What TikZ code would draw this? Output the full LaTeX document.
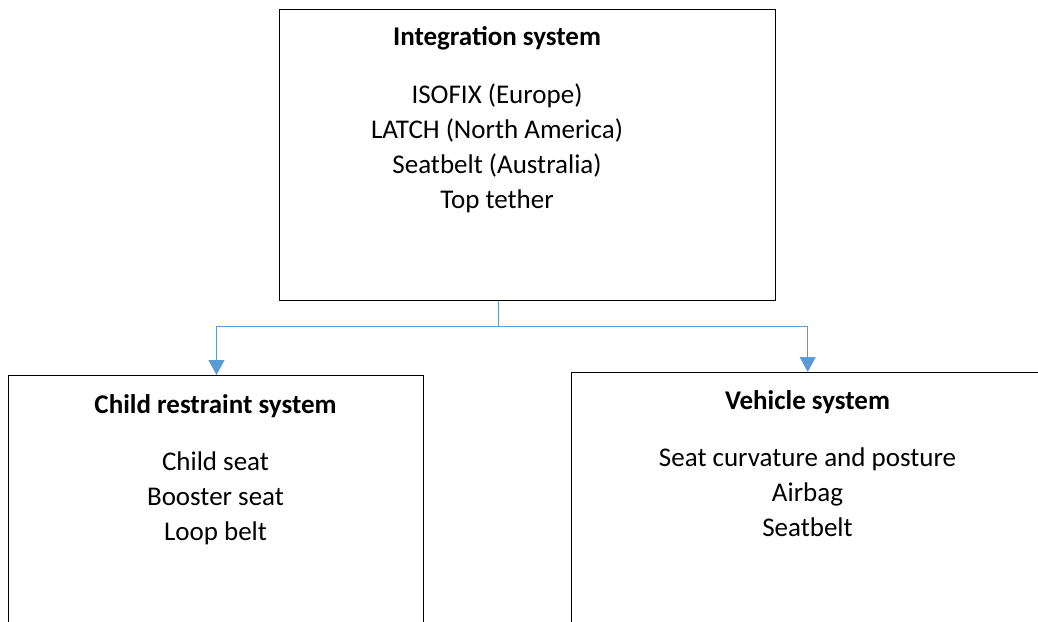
\documentclass[tikz,border=0pt]{standalone}
\usepackage{fontspec}
\setmainfont{Carlito}
\usetikzlibrary{arrows.meta}
\definecolor{linkblue}{HTML}{5B9BD5}
\tikzset{
  box/.style={draw=black, line width=1.4pt, anchor=north west, inner sep=0pt},
  conn/.style={draw=linkblue, line width=1.1pt},
  tip/.style={-{Triangle[width=16pt,length=15pt]}},
  head/.style={font=\fontsize{27}{34.8}\selectfont\bfseries, inner sep=0pt, anchor=base},
  items/.style={font=\fontsize{27}{34.8}\selectfont, align=center, inner sep=0pt, anchor=north}
}
\begin{document}
\begin{tikzpicture}[x=1pt,y=-1pt]
\clip (0,0) rectangle (1038,621);
\fill[white] (0,0) rectangle (1038,621);
% boxes
\node[box, minimum width=496pt, minimum height=291pt] (top) at (279,9) {};
\node[box, minimum width=415pt, minimum height=300pt] (crs) at (8,375) {};
\node[box, minimum width=520pt, minimum height=300pt] (veh) at (571,372) {};
% texts
\node[head] (toph) at (497,45) {Integration system};
\node[items] (topl) at (497,83.8) {ISOFIX (Europe)\\LATCH (North America)\\Seatbelt (Australia)\\Top tether};
\node[head] (crsh) at (215.5,413.5) {Child restraint system};
\node[items] (crsl) at (215.5,452) {Child seat\\Booster seat\\Loop belt};
\node[head] (vehh) at (807.5,409.5) {Vehicle system};
\node[items] (vehl) at (807.5,448) {Seat curvature and posture\\Airbag\\Seatbelt};
% connectors
\coordinate (bus) at (498.5,326.5);
\coordinate (crsin) at (216.5,375);
\coordinate (vehin) at (807.7,372);
\draw[conn] (top.south -| bus) -- (bus);
\draw[conn,tip] (bus) -| (crsin);
\draw[conn,tip] (bus) -| (vehin);
\end{tikzpicture}
\end{document}
